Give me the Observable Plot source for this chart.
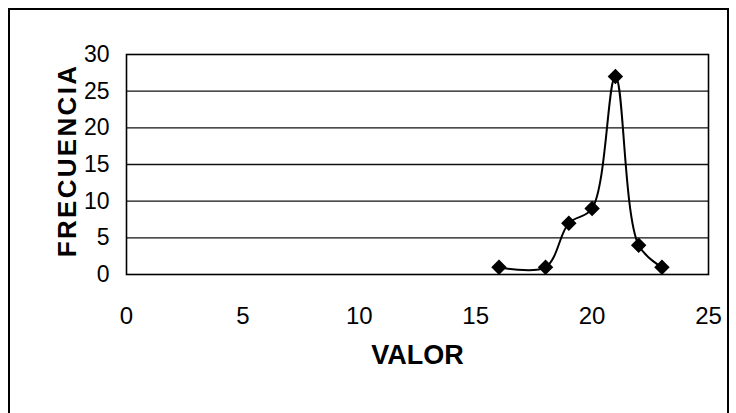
<!DOCTYPE html>
<html>
<head>
<meta charset="utf-8">
<script src="https://cdn.jsdelivr.net/npm/d3@7"></script>
<script src="https://cdn.jsdelivr.net/npm/@observablehq/plot@0.6"></script>
<style>
  html, body { margin: 0; padding: 0; background: #fff; }
  #wrap { position: relative; width: 736px; height: 413px; overflow: hidden; }
  #frame { position: absolute; left: 8px; top: 8px; width: 721px; height: 420px; border: 2px solid #000; box-sizing: border-box; pointer-events: none; }
  svg { display: block; overflow: visible; }
</style>
</head>
<body>
<div id="wrap"><div id="frame"></div></div>
<script>
const valores = [16, 18, 19, 20, 21, 22, 23];
const frecuencias = [1, 1, 7, 9, 27, 4, 1];
const xTicks = [0, 5, 10, 15, 20, 25];
const yTicks = [0, 5, 10, 15, 20, 25, 30];
const xTitle = "VALOR";
const yTitle = "FRECUENCIA";

const data = valores.map((v, i) => ({valor: v, frecuencia: frecuencias[i]}));

const chart = Plot.plot({
  width: 736,
  height: 413,
  marginLeft: 126,
  marginRight: 28,
  marginTop: 54,
  marginBottom: 139,
  style: {fontFamily: "'Liberation Sans', Arial, sans-serif", background: "transparent"},
  x: {domain: [0, 25], ticks: xTicks},
  y: {domain: [0, 30], ticks: yTicks},
  marks: [
    Plot.ruleY(yTicks.filter(d => d > 0 && d < 30), {stroke: "#111", strokeWidth: 1.4}),
    Plot.frame({stroke: "#000", strokeWidth: 1.6}),
    Plot.axisX({ticks: xTicks, tickSize: 0, tickPadding: 32, fontSize: 24, fill: "#000", label: null}),
    Plot.axisY({ticks: yTicks, tickSize: 0, tickPadding: 17, fontSize: 23, fill: "#000", label: null}),
    Plot.line(data, {x: "valor", y: "frecuencia", curve: "catmull-rom", stroke: "#000", strokeWidth: 2}),
    Plot.dot(data, {x: "valor", y: "frecuencia", symbol: "diamond2", r: 6, fill: "#000", stroke: "#000"}),
    Plot.text([xTitle], {frameAnchor: "bottom", dy: 89, fontSize: 27, fontWeight: "bold", fill: "#000", text: d => d}),
    Plot.text([yTitle], {frameAnchor: "left", textAnchor: "middle", lineAnchor: "middle", dx: -59, dy: -4, rotate: -90, fontSize: 26, fontWeight: "bold", fill: "#000", text: d => d})
  ]
});
d3.select(chart).selectAll("text").filter(function() { return this.textContent === yTitle; }).attr("letter-spacing", "2.3px");
document.getElementById("wrap").prepend(chart);
</script>
</body>
</html>
